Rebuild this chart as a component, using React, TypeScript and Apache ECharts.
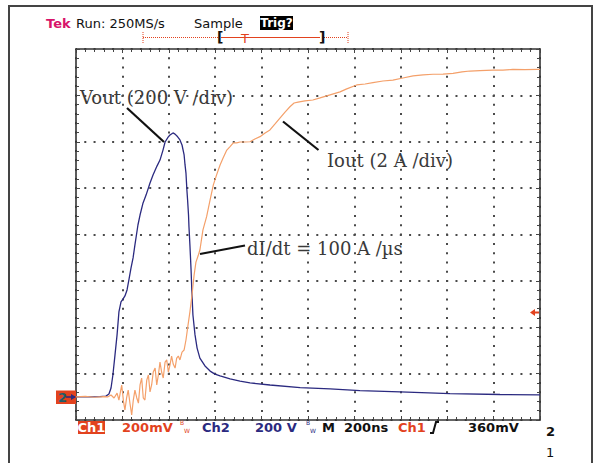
import React, { useEffect, useRef } from "react";
import * as echarts from "echarts";

// Ch2 : Vout (200 V/div), time in ns (200 ns/div)
const VOUT_TIME_NS = [0, 60, 103, 129, 142, 151, 159, 168, 177, 185, 194, 203, 211, 220, 228, 237, 246, 254, 267, 276, 289, 302, 319, 332, 349, 362, 375, 384, 397, 405, 418, 427, 435, 448, 457, 466, 470, 474, 478, 481, 485, 487, 491, 496, 500, 504, 513, 522, 534, 556, 578, 599, 621, 664, 707, 750, 836, 966, 1095, 1224, 1397, 1612, 1828, 2000];
const VOUT_V = [0, 0, 1, 3, 12, 38, 94, 180, 267, 366, 409, 422, 435, 461, 504, 555, 599, 655, 741, 784, 836, 870, 922, 957, 995, 1021, 1064, 1099, 1120, 1129, 1138, 1133, 1125, 1108, 1086, 1043, 1000, 965, 892, 849, 784, 732, 655, 547, 439, 353, 267, 210, 167, 133, 111, 98, 90, 77, 68, 60, 51, 40, 34, 27, 21, 14, 10, 8];

// Ch1 : Iout (2 A/div)
const IOUT_TIME_NS = [0, 40, 80, 120, 138, 151, 164, 177, 185, 197, 205, 211, 218, 225, 233, 240, 247, 254, 262, 269, 276, 283, 290, 297, 305, 312, 319, 326, 333, 341, 348, 355, 362, 369, 376, 384, 391, 398, 405, 412, 419, 427, 434, 441, 448, 457, 466, 474, 483, 491, 500, 509, 517, 526, 534, 547, 563, 578, 592, 606, 621, 634, 650, 664, 678, 693, 707, 728, 750, 771, 793, 815, 836, 858, 879, 901, 922, 940, 957, 987, 1021, 1052, 1095, 1138, 1167, 1210, 1246, 1280, 1323, 1366, 1409, 1453, 1496, 1539, 1582, 1625, 1664, 1698, 1741, 1797, 1840, 1883, 1935, 1991, 2000];
const IOUT_A = [0, 0.02, -0.02, 0.01, 0, 0.08, -0.05, 0.16, -0.14, 0.51, -0.22, -0.57, -0.05, 0.29, -0.31, -0.78, -0.14, 0.29, -0.05, -0.27, 0.51, 0.81, -0.05, -0.14, 0.72, 0.94, 0.21, 0.51, 1.07, 1.24, 0.51, 0.94, 1.5, 1.07, 0.81, 1.5, 1.59, 1.07, 1.37, 1.76, 1.41, 1.24, 1.67, 1.76, 1.59, 1.93, 2.02, 2.45, 3.1, 3.66, 4.39, 5.25, 5.81, 6.07, 6.33, 7.19, 7.77, 8.49, 9.14, 9.57, 10.0, 10.3, 10.64, 10.79, 10.95, 10.95, 10.99, 10.99, 11.0, 11.12, 11.22, 11.38, 11.51, 11.77, 12.02, 12.28, 12.51, 12.67, 12.71, 12.76, 12.8, 12.89, 13.02, 13.15, 13.28, 13.45, 13.49, 13.55, 13.62, 13.66, 13.75, 13.84, 13.88, 13.91, 13.92, 13.95, 14.01, 14.05, 14.07, 14.09, 14.09, 14.12, 14.11, 14.12, 14.12];

const ANNOTATIONS = ["Vout (200 V /div)", "Iout (2 A /div)", "dI/dt = 100 A /µs"];

const RED = "#e2421e";
const NAVY = "#2b2a80";
const ORANGE = "#f4a06a";
const SANS = '"DejaVu Sans", sans-serif';
const ANNO_FONT = '18px "DejaVu Serif", serif';

export default function App() {
  const ref = useRef<HTMLDivElement>(null);
  useEffect(() => {
    if (!ref.current) return;
    const chart = echarts.init(ref.current, null, { renderer: "svg" });
    const voutData = VOUT_TIME_NS.map((t, i) => [t, VOUT_V[i]]);
    const ioutData = IOUT_TIME_NS.map((t, i) => [t, IOUT_A[i]]);
    const dotted = { type: [2, 7.28], color: "#4a4a4a", width: 2, dashOffset: 1 };
    const border = { show: true, onZero: false, lineStyle: { color: "#333", width: 1.6 } };
    const tick = { show: true, inside: true, length: 4, lineStyle: { color: "#444", width: 1 } };
    const minor = { show: true, splitNumber: 5, length: 3, lineStyle: { color: "#444", width: 1 } };
    const txt = (text: string, x: number, y: number, fill: string, font = `13px ${SANS}`, align = "left") => ({
      type: "text",
      z: 100,
      style: { text, x, y, fill, font, align, verticalAlign: "middle" },
    });
    const line = (x1: number, y1: number, x2: number, y2: number, stroke: string, lineWidth = 2, lineDash?: number[]) => ({
      type: "line",
      z: 100,
      shape: { x1, y1, x2, y2 },
      style: { stroke, lineWidth, lineDash },
    });
    chart.setOption({
      animation: false,
      backgroundColor: "#ffffff",
      grid: { left: 76, top: 49, width: 464, height: 371 },
      xAxis: [
        {
          type: "value", min: 0, max: 2000, interval: 200, position: "bottom",
          axisLine: border, axisTick: tick, minorTick: minor, axisLabel: { show: false },
          splitLine: { show: true, lineStyle: dotted },
        },
        {
          type: "value", min: 0, max: 2000, interval: 200, position: "top",
          axisLine: border, axisTick: tick, minorTick: minor, axisLabel: { show: false },
          splitLine: { show: false },
        },
      ],
      yAxis: [
        {
          type: "value", min: 0, max: 8, interval: 1, position: "left",
          axisLine: border, axisTick: tick, minorTick: minor, axisLabel: { show: false },
          splitLine: { show: true, lineStyle: dotted },
        },
        {
          type: "value", min: 0, max: 8, interval: 1, position: "right",
          axisLine: border, axisTick: tick, minorTick: minor, axisLabel: { show: false },
          splitLine: { show: false },
        },
        { type: "value", min: -100, max: 1500, show: false },
        { type: "value", min: -1, max: 15, show: false },
      ],
      series: [
        {
          name: "Vout", type: "line", xAxisIndex: 0, yAxisIndex: 2, data: voutData,
          showSymbol: false, lineStyle: { color: NAVY, width: 1.3 }, z: 3,
        },
        {
          name: "Iout", type: "line", xAxisIndex: 0, yAxisIndex: 3, data: ioutData,
          showSymbol: false, lineStyle: { color: ORANGE, width: 1.2 }, z: 4,
        },
      ],
      graphic: [
        // outer frame
        { type: "polyline", z: 100, shape: { points: [[9, 463], [9, 6], [592, 6], [592, 463]] }, style: { stroke: "#444", lineWidth: 2, fill: "none" } },
        // header
        txt("Tek", 46, 23, "#d8146a", `bold 13px ${SANS}`),
        txt("Run: 250MS/s", 76, 23, "#111"),
        txt("Sample", 194, 23, "#111"),
        { type: "rect", z: 100, shape: { x: 260, y: 16, width: 33, height: 14 }, style: { fill: "#000" } },
        txt("Trig?", 276.5, 23, "#fff", `bold 12px ${SANS}`, "center"),
        // trigger position bar
        line(143, 37.5, 219, 37.5, RED, 1, [1, 1]),
        line(322, 37.5, 348, 37.5, RED, 1, [1, 1]),
        line(221, 37.5, 320, 37.5, RED, 1),
        line(143, 32, 143, 43, RED, 1, [1, 1]),
        line(348, 32, 348, 43, RED, 1, [1, 1]),
        txt("[", 217, 37, "#111", `bold 14px ${SANS}`),
        txt("]", 319, 37, "#111", `bold 14px ${SANS}`),
        txt("T", 245, 38, RED, `13px ${SANS}`, "center"),
        // ground marker (left)
        { type: "rect", z: 100, shape: { x: 56, y: 390.5, width: 20, height: 13.5 }, style: { fill: RED } },
        txt("2", 58, 397.5, "#1d5e6a", `bold 13px ${SANS}`),
        line(66, 397, 75, 397, NAVY, 1.5),
        { type: "polygon", z: 100, shape: { points: [[76, 397], [71, 394], [71, 400]] }, style: { fill: NAVY } },
        // trigger level marker (right)
        { type: "polygon", z: 100, shape: { points: [[530, 312.5], [535, 309], [535, 316]] }, style: { fill: RED } },
        line(534, 312.5, 539, 312.5, RED, 2),
        // annotations
        txt(ANNOTATIONS[0], 80, 97, "#3a3a3a", ANNO_FONT),
        line(127, 108, 164, 142, "#111", 2.2),
        txt(ANNOTATIONS[1], 327, 160, "#3a3a3a", ANNO_FONT),
        line(283, 121.5, 318.5, 150, "#111", 2.2),
        txt(ANNOTATIONS[2], 247, 248, "#3a3a3a", ANNO_FONT),
        line(245, 245.5, 200, 254, "#111", 2.2),
        // status bar
        { type: "rect", z: 100, shape: { x: 78, y: 421, width: 27, height: 13 }, style: { fill: RED } },
        txt("Ch1", 91.5, 427.5, "#fff", `bold 13px ${SANS}`, "center"),
        txt("200mV", 122, 427.5, RED, `bold 13px ${SANS}`),
        txt("B", 180, 422.5, RED, `6px ${SANS}`),
        txt("W", 184, 430.5, RED, `6px ${SANS}`),
        txt("Ch2", 202, 427.5, NAVY, `bold 13px ${SANS}`),
        txt("200 V", 255, 427.5, NAVY, `bold 13px ${SANS}`),
        txt("B", 306, 422.5, NAVY, `6px ${SANS}`),
        txt("W", 310, 430.5, NAVY, `6px ${SANS}`),
        txt("M", 322, 427.5, "#111", `bold 13px ${SANS}`),
        txt("200ns", 344, 427.5, "#111", `bold 13px ${SANS}`),
        txt("Ch1", 398, 427.5, RED, `bold 13px ${SANS}`),
        { type: "polyline", z: 100, shape: { points: [[430, 433], [433, 433], [436, 422], [439, 422]] }, style: { stroke: "#111", lineWidth: 2, fill: "none" } },
        txt("360mV", 468, 427.5, "#111", `bold 13px ${SANS}`),
        txt("2", 546, 431, "#111", `bold 13px ${SANS}`),
        txt("1", 546, 452, "#111", `13px ${SANS}`),
      ],
    });
    return () => chart.dispose();
  }, []);
  return <div ref={ref} style={{ position: "fixed", left: 0, top: 0, width: 594, height: 463 }} />;
}
